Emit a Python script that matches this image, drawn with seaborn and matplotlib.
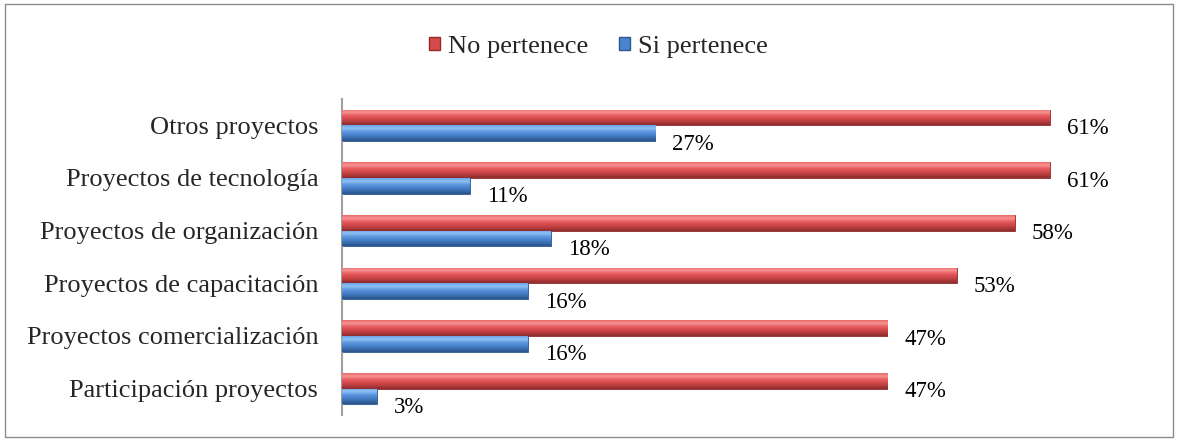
import matplotlib
matplotlib.use("Agg")
import matplotlib.pyplot as plt
from matplotlib.patches import Rectangle
from matplotlib.colors import LinearSegmentedColormap
import seaborn as sns
import pandas as pd
import numpy as np

#----------DATA-----------------#
categorias = ["Otros proyectos", "Proyectos de tecnología", "Proyectos de organización",
              "Proyectos de capacitación", "Proyectos comercialización", "Participación proyectos"]
no_pertenece = [61, 61, 58, 53, 47, 47]
si_pertenece = [27, 11, 18, 16, 16, 3]
grupos = ["No pertenece", "Si pertenece"]

df = pd.DataFrame({
    "categoria": categorias * 2,
    "valor": no_pertenece + si_pertenece,
    "grupo": [grupos[0]] * len(categorias) + [grupos[1]] * len(categorias),
})

colores = {"No pertenece": "#D64A4C", "Si pertenece": "#4A84CE"}
bordes  = {"No pertenece": "#8E2A2A", "Si pertenece": "#2C5890"}
# top -> bottom shading of the bevelled bars
degradados = {
    "No pertenece": ["#E86A6A", "#F79494", "#E85E60", "#D44A4C", "#B53C3E", "#8A2C2D"],
    "Si pertenece": ["#6AA2E6", "#8FC2F5", "#5F98DF", "#4A84CE", "#3A6DAE", "#2A5288"],
}

#----------PLOT-----------------#
sns.set_style("white")
plt.rcParams["font.family"] = ["Liberation Serif", "DejaVu Serif"]

fig = plt.figure(figsize=(11.78, 4.41), dpi=100)
ax = fig.add_axes([0.2903, 0.059, 0.6893, 0.7166])

sns.barplot(data=df, y="categoria", x="valor", hue="grupo", hue_order=grupos,
            order=categorias, orient="h", palette=colores, width=0.59,
            ax=ax, legend=False, saturation=1)

grad = np.linspace(0, 1, 64).reshape(-1, 1)

# gradient fill on each bar + value labels
for cont, g in zip(ax.containers, grupos):
    cmap = LinearSegmentedColormap.from_list(g, degradados[g])
    for bar in cont:
        bar.set_edgecolor(bordes[g])
        bar.set_linewidth(0.6)
        bar.set_zorder(2)
        x0, y0 = bar.get_x(), bar.get_y()
        w, h = bar.get_width(), bar.get_height()
        im = ax.imshow(grad, cmap=cmap, aspect="auto", interpolation="bilinear",
                       extent=[x0, x0 + w, y0 + h, y0], zorder=3)
        im.set_clip_path(bar)
        ax.annotate(f"{int(round(w))}%", xy=(x0 + w, y0 + h / 2),
                    xytext=(17, -11), textcoords="offset pixels",
                    ha="left", va="center", fontsize=16.5, color="black")

ax.set_xlim(0, 70)
ax.set_ylim(len(categorias) - 0.5, -0.5)
ax.set_xlabel("")
ax.set_ylabel("")
ax.set_xticks([])
ax.tick_params(axis="y", length=0, pad=17, labelsize=19)
for s in ["top", "right", "bottom"]:
    ax.spines[s].set_visible(False)
ax.spines["left"].set_color("#A0A0A0")
ax.spines["left"].set_linewidth(1.5)

# legend
handles = [Rectangle((0, 0), 1, 1, facecolor=colores[g], edgecolor=bordes[g]) for g in grupos]
fig.legend(handles, grupos, loc="center", bbox_to_anchor=(0.508, 0.893), ncol=2,
           frameon=False, fontsize=19, handlelength=0.4, handleheight=0.4,
           handletextpad=0.3, columnspacing=1.2)

# outer border
fig.add_artist(Rectangle((0.004, 0.009), 0.992, 0.982, transform=fig.transFigure,
                         fill=False, edgecolor="#8C8C8C", linewidth=1))

plt.savefig("out.png", dpi=100)
